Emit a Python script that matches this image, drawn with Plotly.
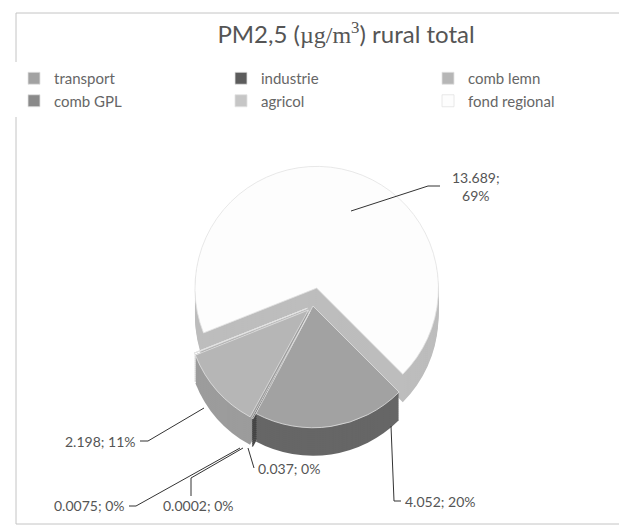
import plotly.graph_objects as go

categories = ["transport", "industrie", "comb lemn", "comb GPL", "agricol", "fond regional"]
values = [4.052, 0.037, 2.198, 0.0075, 0.0002, 13.689]
top_colors = ["#a2a2a2", "#5c5c5c", "#b6b6b6", "#8a8a8a", "#c6c6c6", "#fdfdfd"]
side_colors = ["#666666", "#444444", "#9c9c9c", "#6c6c6c", "#a8a8a8", "#bdbdbd"]
pulls = [0.0, 0.05, 0.05, 0.05, 0.05, 0.15]

W, H = 627, 526
FONT = "Lato, Liberation Sans, Arial"


def px(x):
    return x / W


def py(y):
    return 1 - y / H


# pie domain (pixels): center and half-size including pull room
cx, cy, half = 305, 298, 140
dom_x = [px(cx - half), px(cx + half)]
dom_y_top = py(cy - half)
dom_y_bot = py(cy + half)

fig = go.Figure()

# fake 3D depth: stacked copies shifted downward
depth_steps = list(range(28, 0, -2))
for d in depth_steps:
    fig.add_trace(go.Pie(
        labels=categories, values=values, sort=False, direction="clockwise",
        rotation=135, pull=pulls,
        marker=dict(colors=side_colors, line=dict(width=0)),
        textinfo="none", hoverinfo="skip", showlegend=False,
        domain=dict(x=dom_x, y=[dom_y_bot - d / H, dom_y_top - d / H]),
    ))

fig.add_trace(go.Pie(
    labels=categories, values=values, sort=False, direction="clockwise",
    rotation=135, pull=pulls,
    marker=dict(colors=top_colors, line=dict(color="#e2e2e2", width=0.8)),
    textinfo="none", hoverinfo="label+value+percent",
    domain=dict(x=dom_x, y=[dom_y_bot, dom_y_top]),
))

total = sum(values)
lab = {c: f"{v}; {int(100 * v / total + 0.5)}%" for c, v in zip(categories, values)}

annotations = [
    dict(text=lab["fond regional"].replace("; ", ";<br>"), x=px(468), y=py(178), xanchor="center", yanchor="middle"),
    dict(text=lab["transport"], x=px(395), y=py(493), xanchor="left", yanchor="middle"),
    dict(text=lab["industrie"], x=px(248), y=py(460), xanchor="left", yanchor="middle"),
    dict(text=lab["comb lemn"], x=px(130), y=py(433), xanchor="right", yanchor="middle"),
    dict(text=lab["comb GPL"], x=px(119), y=py(497), xanchor="right", yanchor="middle"),
    dict(text=lab["agricol"], x=px(153), y=py(497), xanchor="left", yanchor="middle"),
]
for a in annotations:
    a.update(xref="paper", yref="paper", showarrow=False,
             font=dict(family=FONT, size=14, color="#555555"))


def path(pts):
    return "M " + " L ".join(f"{px(x)},{py(y)}" for x, y in pts)


leaders = [
    [(343, 203), (420, 178), (432, 178)],
    [(383, 418), (386, 493), (393, 493)],
    [(240, 440), (246, 460)],
    [(132, 433), (140, 433), (196, 400)],
    [(121, 498), (128, 498), (232, 440)],
    [(235, 440), (183, 470), (183, 488)],
]
shapes = [dict(type="path", xref="paper", yref="paper", path=path(p),
               line=dict(color="#333333", width=1)) for p in leaders]
shapes.append(dict(type="rect", xref="paper", yref="paper",
                   x0=px(8), y0=py(516), x1=px(620), y1=py(5),
                   line=dict(color="#c4c4c4", width=1)))

fig.update_layout(
    width=W, height=H,
    margin=dict(l=0, r=0, t=0, b=0),
    paper_bgcolor="white",
    title=dict(
        text="PM2,5 (<span style='font-family:Liberation Serif'>µg/m<sup>3</sup></span>) rural total",
        x=px(338), xanchor="center", y=py(27), yanchor="middle",
        font=dict(family=FONT, size=24, color="#555555"),
    ),
    legend=dict(
        orientation="h", x=px(45), y=py(54), xanchor="left", yanchor="top",
        entrywidth=162, entrywidthmode="pixels", itemwidth=30,
        font=dict(family=FONT, size=15, color="#666666"),
        traceorder="normal",
    ),
    annotations=annotations,
    shapes=shapes,
)

fig.write_html("out.html")
